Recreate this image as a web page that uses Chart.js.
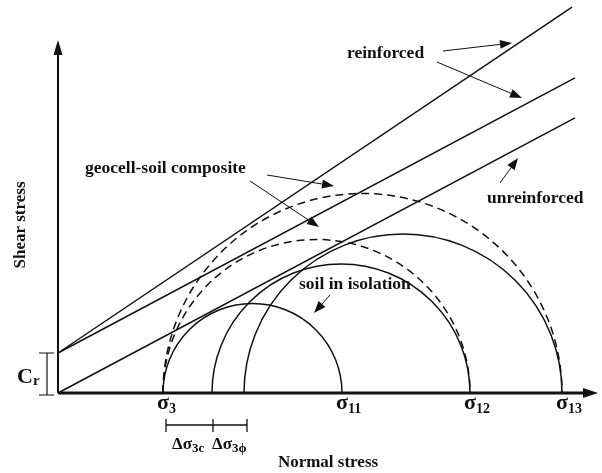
<!DOCTYPE html>
<html>
<head>
<meta charset="utf-8">
<script src="https://cdn.jsdelivr.net/npm/chart.js@4.4.1/dist/chart.umd.min.js"></script>
<style>
  html, body { margin: 0; padding: 0; background: #fff; }
</style>
</head>
<body>
<canvas id="mohr" width="602" height="473"></canvas>
<script>
// stresses, same unit on both axes
const sigma3 = 105;
const deltaSigma3c = 49;
const deltaSigma3phi = 32;
const sigma1 = [284, 412, 504];           // σ11, σ12, σ13
const cohesionR = 40;                      // Cr

// failure envelopes: tau = c + sigma * tan(phi)
const envelopeNames = ['unreinforced', 'reinforced (c)', 'reinforced (c + phi)'];
const envelopeC = [0, cohesionR, cohesionR];
const envelopeTan = [0.532, 0.532, 0.673];
const envelopeEnd = [517, 517, 514];

// Mohr circles, minor and major principal stress
const circleMinor = [sigma3, sigma3 + deltaSigma3c, sigma3 + deltaSigma3c + deltaSigma3phi, sigma3, sigma3];
const circleMajor = [sigma1[0], sigma1[1], sigma1[2], sigma1[1], sigma1[2]];
const circleDashed = [false, false, false, true, true];

const sigmaLabels = [['σ', '3'], ['σ', '11'], ['σ', '12'], ['σ', '13']];
const sigmaLabelAt = [sigma3, sigma1[0], sigma1[1], sigma1[2]];

const SERIF = '"Liberation Serif", "Times New Roman", serif';

function arrow(ctx, x1, y1, x2, y2) {
  const a = Math.atan2(y2 - y1, x2 - x1);
  const len = 12, half = 4.5;
  const bx = x2 - len * Math.cos(a), by = y2 - len * Math.sin(a);
  ctx.lineWidth = 1;
  ctx.beginPath();
  ctx.moveTo(x1, y1);
  ctx.lineTo(bx, by);
  ctx.stroke();
  ctx.beginPath();
  ctx.moveTo(x2, y2);
  ctx.lineTo(bx + half * Math.sin(a), by - half * Math.cos(a));
  ctx.lineTo(bx - half * Math.sin(a), by + half * Math.cos(a));
  ctx.closePath();
  ctx.fill();
}

// text with a subscript, left aligned at x, baseline y
function subText(ctx, main, sub, x, y, size, subSize, drop) {
  ctx.textAlign = 'left';
  ctx.textBaseline = 'alphabetic';
  ctx.font = 'bold ' + size + 'px ' + SERIF;
  ctx.fillText(main, x, y);
  const w = ctx.measureText(main).width;
  ctx.font = 'bold ' + subSize + 'px ' + SERIF;
  ctx.fillText(sub, x + w, y + drop);
  return w + ctx.measureText(sub).width;
}

const mohrPlugin = {
  id: 'mohr',
  afterDatasetsDraw(chart) {
    const ctx = chart.ctx;
    const xs = chart.scales.x, ys = chart.scales.y;
    const ox = xs.getPixelForValue(0), oy = ys.getPixelForValue(0);
    ctx.save();
    ctx.strokeStyle = '#111';
    ctx.fillStyle = '#111';

    // circles
    circleMinor.forEach((lo, i) => {
      const hi = circleMajor[i];
      const cx = xs.getPixelForValue((lo + hi) / 2);
      const r = xs.getPixelForValue(hi) - cx;
      ctx.lineWidth = 1.5;
      ctx.setLineDash(circleDashed[i] ? [8, 5] : []);
      ctx.beginPath();
      ctx.arc(cx, oy, r, Math.PI, 2 * Math.PI);
      ctx.stroke();
    });
    ctx.setLineDash([]);

    // axes
    ctx.lineWidth = 2;
    ctx.beginPath();
    ctx.moveTo(ox, oy);
    ctx.lineTo(ox, 50);
    ctx.stroke();
    ctx.beginPath();
    ctx.moveTo(ox, 40);
    ctx.lineTo(ox - 4.5, 55);
    ctx.lineTo(ox + 4.5, 55);
    ctx.closePath();
    ctx.fill();
    ctx.lineWidth = 3;
    ctx.beginPath();
    ctx.moveTo(ox, oy);
    ctx.lineTo(588, oy);
    ctx.stroke();
    ctx.beginPath();
    ctx.moveTo(598, oy);
    ctx.lineTo(583, oy - 5);
    ctx.lineTo(583, oy + 5);
    ctx.closePath();
    ctx.fill();

    // Cr bracket
    const cy = ys.getPixelForValue(cohesionR);
    ctx.lineWidth = 1.2;
    ctx.beginPath();
    ctx.moveTo(47, cy); ctx.lineTo(47, oy + 2);
    ctx.moveTo(39, cy); ctx.lineTo(54, cy);
    ctx.moveTo(39, oy + 2); ctx.lineTo(54, oy + 2);
    ctx.stroke();
    subText(ctx, 'C', 'r', 17, 383, 22, 15, 2);

    // sigma labels under the axis
    sigmaLabels.forEach((lab, i) => {
      const x = xs.getPixelForValue(sigmaLabelAt[i]);
      subText(ctx, lab[0], lab[1], x - 6, 409, 22, 14, 4);
    });

    // delta sigma bracket
    const b0 = xs.getPixelForValue(sigma3) + 3;
    const b1 = xs.getPixelForValue(sigma3 + deltaSigma3c) + 1;
    const b2 = xs.getPixelForValue(sigma3 + deltaSigma3c + deltaSigma3phi) + 3;
    ctx.lineWidth = 1.3;
    ctx.beginPath();
    ctx.moveTo(b0, 425); ctx.lineTo(b2, 425);
    [b0, b1, b2].forEach(b => { ctx.moveTo(b, 419); ctx.lineTo(b, 432); });
    ctx.stroke();
    let w = subText(ctx, 'Δσ', '3', 172, 449, 17, 13, 3);
    ctx.font = 'bold 13px ' + SERIF;
    ctx.fillText('c', 172 + w, 452);
    w = subText(ctx, 'Δσ', '3', 212, 449, 17, 13, 3);
    ctx.fillText('ϕ', 212 + w, 452);

    // axis titles
    ctx.font = 'bold 17px ' + SERIF;
    ctx.textAlign = 'center';
    ctx.textBaseline = 'middle';
    ctx.fillText('Normal stress', 328, 463);
    ctx.save();
    ctx.translate(21, 225);
    ctx.rotate(-Math.PI / 2);
    ctx.fillText('Shear stress', 0, 0);
    ctx.restore();

    // callouts
    ctx.font = 'bold 17.5px ' + SERIF;
    ctx.textAlign = 'left';
    ctx.fillText('reinforced', 347, 53);
    ctx.fillText('unreinforced', 487, 198);
    ctx.fillText('geocell-soil composite', 85, 168);
    ctx.fillText('soil in isolation', 299, 284);
    arrow(ctx, 443, 51, 512, 43);
    arrow(ctx, 437, 62, 522, 98);
    arrow(ctx, 500, 183, 518, 158);
    arrow(ctx, 267, 175, 334, 186);
    arrow(ctx, 250, 181, 319, 227);
    arrow(ctx, 330, 295, 314, 313);
    ctx.restore();
  }
};

new Chart(document.getElementById('mohr'), {
  type: 'scatter',
  data: {
    datasets: envelopeNames.map((name, i) => ({
      label: name,
      data: [
        { x: 0, y: envelopeC[i] },
        { x: envelopeEnd[i], y: envelopeC[i] + envelopeTan[i] * envelopeEnd[i] }
      ],
      showLine: true,
      borderColor: '#111',
      borderWidth: 1.5,
      pointRadius: 0,
      clip: false
    }))
  },
  options: {
    responsive: false,
    animation: false,
    layout: { padding: { left: 58, right: 2, top: 5, bottom: 80 } },
    scales: {
      x: { type: 'linear', min: 0, max: 542, display: false },
      y: { type: 'linear', min: 0, max: 388, display: false }
    },
    plugins: { legend: { display: false }, tooltip: { enabled: false } }
  },
  plugins: [mohrPlugin]
});
</script>
</body>
</html>
